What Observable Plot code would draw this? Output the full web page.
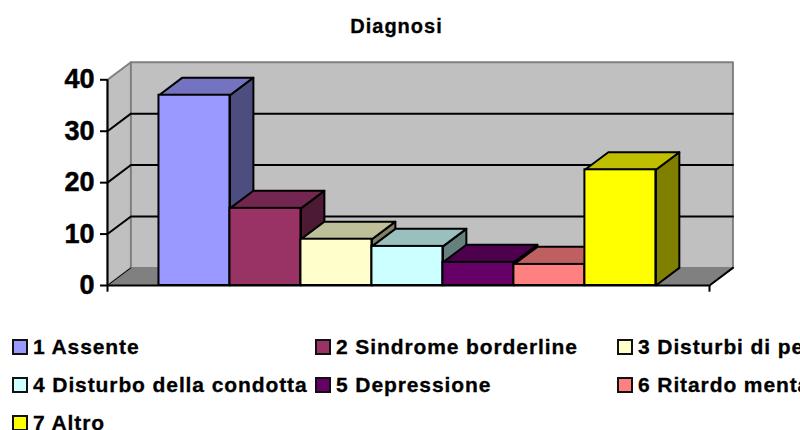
<!DOCTYPE html>
<html>
<head>
<meta charset="utf-8">
<script src="https://cdn.jsdelivr.net/npm/d3@7"></script>
<script src="https://cdn.jsdelivr.net/npm/@observablehq/plot@0.6"></script>
<style>
html,body{margin:0;padding:0;background:#fff;overflow:hidden;width:800px;height:430px;font-family:"Liberation Sans",Arial,sans-serif;font-weight:bold;color:#000}
#wrap{position:relative;width:800px;height:430px;overflow:hidden}
#title{position:absolute;left:0;top:14px;width:793px;text-align:center;font-size:20px;line-height:24px;letter-spacing:1px;-webkit-text-stroke:.3px #000}
#chart{position:absolute;left:0;top:45px}
#chart svg text{stroke:#000;stroke-width:.5px}
#legend{position:absolute;left:0;top:0;width:800px;height:430px;overflow:hidden}
.item{position:absolute;white-space:nowrap;font-size:21px;line-height:14px;letter-spacing:.9px;-webkit-text-stroke:.3px #000}
.sw{position:absolute;width:12px;height:12px;border:2px solid #111;top:-1px;left:-21px}
</style>
</head>
<body>
<div id="wrap">
<div id="title"></div>
<div id="chart"></div>
<div id="legend"></div>
</div>
<script>
const chartTitle = "Diagnosi";
const categories = ["1 Assente","2 Sindrome borderline","3 Disturbi di pe","4 Disturbo della condotta","5 Depressione","6 Ritardo menta","7 Altro"];
const values = [37,15,9,7.6,4.5,4.1,22.5];
const colors = ["#9999ff","#993366","#ffffcc","#ccffff","#660066","#ff8080","#ffff00"];
const topColors = ["#7373bf","#732650","#bfbf99","#99bfbf","#4d004d","#bf6060","#bfbf00"];
const sideColors = ["#4d4d80","#4d1a33","#808066","#668080","#330033","#804040","#808000"];
const yTicks = [0,10,20,30,40];

const dx = 0.33, dy = 3.42;           // depth of the 3-D box, in data units
const xMin = -0.725, xMax = 7.755;
const yMax = 40;
const sw = 2;

const poly = (pts, opts) => Plot.line(pts.map(([x,y]) => ({x,y})), {x:"x", y:"y", curve:"linear", ...opts});

const marks = [
  // left wall, back wall, floor
  poly([[xMin,0],[xMin+dx,dy],[xMin+dx,yMax+dy],[xMin,yMax],[xMin,0]], {fill:"#c0c0c0", stroke:"#808080", strokeWidth:2}),
  poly([[xMin+dx,dy],[xMin+dx,yMax+dy],[xMax+dx,yMax+dy],[xMax+dx,dy],[xMin+dx,dy]], {fill:"#c0c0c0", stroke:"#808080", strokeWidth:2}),
  poly([[xMin,0],[xMin+dx,dy],[xMax+dx,dy],[xMax,0],[xMin,0]], {fill:"#808080", stroke:"#808080", strokeWidth:1}),
  // gridlines on the walls
  ...yTicks.filter(t => t > 0 && t < yMax).map(t => poly([[xMin,t],[xMin+dx,t+dy],[xMax+dx,t+dy]], {stroke:"#000", strokeWidth:sw})),
  poly([[xMin,0],[xMin+dx,dy]], {stroke:"#000", strokeWidth:1}),
  poly([[xMax,0],[xMax+dx,dy]], {stroke:"#000", strokeWidth:sw}),
  // bars, painted left to right
  ...values.flatMap((v,i) => [
    poly([[i+1,0],[i+1+dx,dy],[i+1+dx,v+dy],[i+1,v],[i+1,0]], {fill:sideColors[i], stroke:"#000", strokeWidth:sw}),
    poly([[i,v],[i+dx,v+dy],[i+1+dx,v+dy],[i+1,v],[i,v]], {fill:topColors[i], stroke:"#000", strokeWidth:sw}),
    Plot.rect([v], {x1:i, x2:i+1, y1:0, y2:d=>d, fill:colors[i], stroke:"#000", strokeWidth:sw})
  ]),
  // axes
  Plot.ruleX([xMin], {y1:0, y2:yMax, stroke:"#000", strokeWidth:sw}),
  Plot.ruleY([0], {x1:xMin, x2:xMax, stroke:"#000", strokeWidth:sw}),
  Plot.ruleX([xMin,xMax], {y1:0, y2:-1.3, stroke:"#000", strokeWidth:sw}),
  Plot.axisY(yTicks, {anchor:"left", label:null, tickSize:7, tickPadding:6, fontSize:27, fontWeight:"bold", stroke:"#000", strokeWidth:sw, fontFamily:"Liberation Sans"})
];

const plot = Plot.plot({
  width:800, height:288,
  marginLeft:107, marginRight:60, marginTop:15, marginBottom:48,
  style:{background:"transparent", overflow:"visible"},
  x:{domain:[xMin,xMax], range:[107,709], axis:null},
  y:{domain:[0,yMax], range:[240,34.3], axis:null},
  marks
});
document.getElementById("chart").append(plot);
document.getElementById("title").textContent = chartTitle;

const legend = document.getElementById("legend");
const colX = [33,336,638], rowY = [340,378,416];
categories.forEach((c,i) => {
  const it = document.createElement("div");
  it.className = "item";
  it.style.left = colX[i%3]+"px";
  it.style.top = rowY[Math.floor(i/3)]+"px";
  const s = document.createElement("span");
  s.className = "sw";
  s.style.background = colors[i];
  it.append(s, document.createTextNode(c));
  legend.append(it);
});
</script>
</body>
</html>
